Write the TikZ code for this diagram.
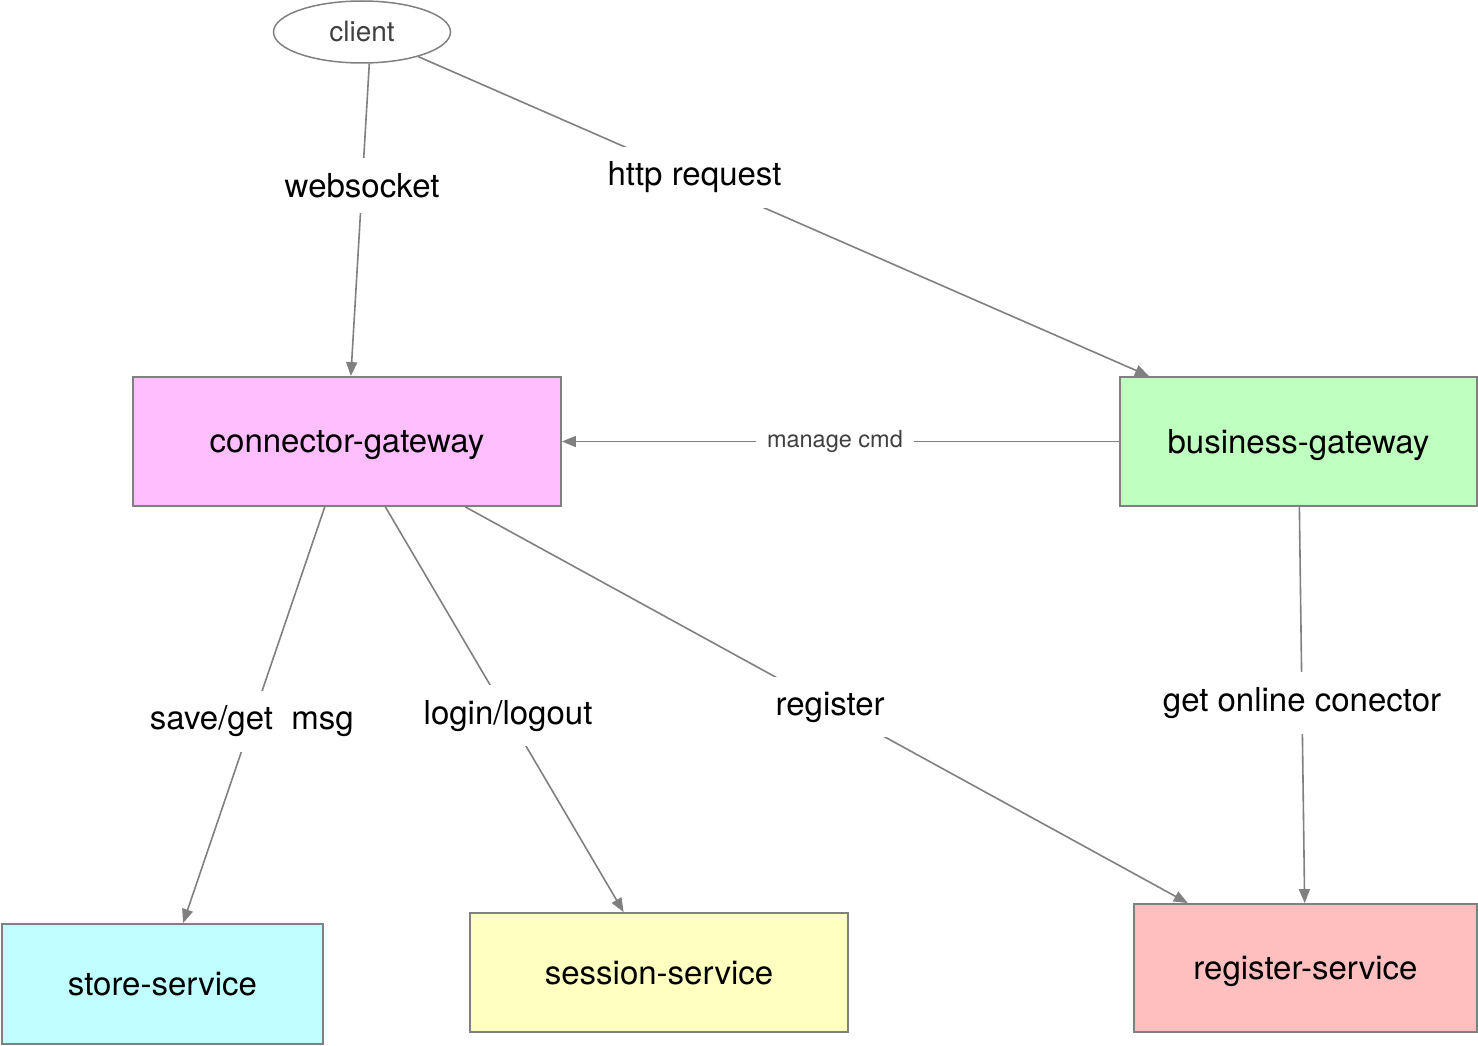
\documentclass[tikz,border=0pt]{standalone}
\usepackage{fontspec}
\setmainfont{TeX Gyre Heros}
\usetikzlibrary{arrows.meta,shapes.geometric}
\definecolor{linegray}{HTML}{808080}
\definecolor{textgray}{HTML}{404040}
\definecolor{connpink}{HTML}{FFBFFF}
\definecolor{busgreen}{HTML}{BFFFBF}
\definecolor{storecyan}{HTML}{BFFFFF}
\definecolor{sessyellow}{HTML}{FFFFBF}
\definecolor{regred}{HTML}{FFBFBF}
\begin{document}
\begin{tikzpicture}[x=1pt,y=-1pt,>={Triangle[length=14pt,width=11pt]},
   box/.style={rectangle,draw=linegray,line width=1.8pt,inner sep=0pt,text depth=0pt,font=\fontsize{33}{40}\selectfont},
   link/.style={->,draw=linegray,fill=linegray,line width=1.6pt},
   lbl/.style={fill=white,inner xsep=9pt,inner ysep=15pt,font=\fontsize{33}{40}\selectfont}]
   \useasboundingbox (0,0) rectangle (1478,1046);
   %client
   \node[ellipse,draw=linegray,line width=1.5pt,minimum width=177pt,minimum height=62pt,inner sep=0pt,
      text=textgray,font=\fontsize{28}{34}\selectfont] (client) at (362,32) {client};
   %gateways
   \node[box,fill=connpink,minimum width=428pt,minimum height=129pt] (conn) at (347,441.5) {connector-gateway};
   \node[box,fill=busgreen,minimum width=357pt,minimum height=129pt] (bus) at (1298.5,441.5) {business-gateway};
   %services
   \node[box,fill=storecyan,minimum width=321pt,minimum height=120pt] (store) at (162.5,984) {store-service};
   \node[box,fill=sessyellow,minimum width=378pt,minimum height=119pt] (sess) at (659,972.5) {session-service};
   \node[box,fill=regred,minimum width=343pt,minimum height=128pt] (reg) at (1305.5,968) {register-service};
   %links
   \draw[link] (client.-77) -- (conn) node[lbl,pos=0.39] {websocket};
   \draw[link] (client) -- (bus) node[lbl,pos=0.378] {http request};
   \draw[link] (bus) -- (conn) node[lbl,pos=0.51,inner xsep=11pt,inner ysep=4pt,text=textgray,font=\fontsize{23.5}{28}\selectfont] {manage cmd};
   \draw[link] (conn) -- (store) node[lbl,pos=0.515] {save/get~~msg};
   \draw[link] (conn) -- (sess) node[lbl,pos=0.515] {login/logout};
   \draw[link] (conn) -- (reg) node[lbl,pos=0.505] {register};
   \draw[link] (bus) -- (reg) node[lbl,pos=0.495] {get online conector};
\end{tikzpicture}
\end{document}
